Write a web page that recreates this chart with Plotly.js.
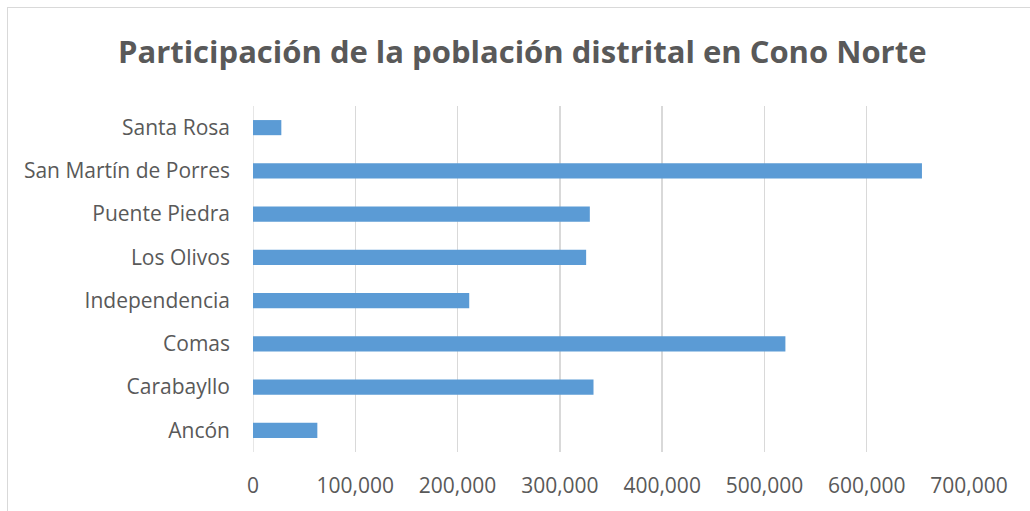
<!DOCTYPE html>
<html>
<head>
<meta charset="utf-8">
<script src="https://cdn.plot.ly/plotly-3.0.1.min.js"></script>
<style>
html,body{margin:0;padding:0;background:#fff;}
#wrap{position:relative;width:1030px;height:511px;overflow:hidden;}
#chart{position:absolute;left:0;top:0;width:1030px;height:511px;}
#frame{position:absolute;left:7px;top:7px;width:1100px;height:600px;border-left:1px solid #d9d9d9;border-top:1px solid #d9d9d9;pointer-events:none;}
</style>
</head>
<body>
<div id="wrap"><div id="chart"></div><div id="frame"></div></div>
<script>
const categories = ["Ancón","Carabayllo","Comas","Independencia","Los Olivos","Puente Piedra","San Martín de Porres","Santa Rosa"];
const population = [62900, 332900, 520500, 211400, 325700, 329300, 654000, 27700];
const xTickValues = [0,100000,200000,300000,400000,500000,600000,700000];
const xTickLabels = ["0","100,000","200,000","300,000","400,000","500,000","600,000","700,000"];
const titleText = "Participación de la población distrital en Cono Norte";

const font = "'Open Sans', sans-serif";
const trace = {
  type: "bar",
  orientation: "h",
  y: categories,
  x: population,
  marker: {color: "#5B9BD5"},
  hoverinfo: "x+y"
};
const layout = {
  width: 1030, height: 511,
  margin: {l: 253, r: 61, t: 106, b: 59},
  paper_bgcolor: "#fff", plot_bgcolor: "#fff",
  bargap: 0.65,
  showlegend: false,
  title: {text: "<b>" + titleText + "</b>", x: 0.507, xanchor: "center", y: 0.898, yanchor: "middle",
          font: {family: font, size: 31, color: "#595959"}},
  xaxis: {range: [0, 700000], tickvals: xTickValues, ticktext: xTickLabels,
          showgrid: true, gridcolor: "#d9d9d9", gridwidth: 1.3, zeroline: false,
          showline: false, ticks: "", ticklabelstandoff: 19,
          tickfont: {family: font, size: 21, color: "#595959"}, fixedrange: true},
  yaxis: {type: "category", showgrid: false, zeroline: false, showline: false,
          ticks: "", ticklabelstandoff: 22,
          tickfont: {family: font, size: 21, color: "#595959"}, fixedrange: true},
  shapes: [{type: "line", xref: "x", yref: "paper", x0: 0, x1: 0, y0: 0, y1: 1,
            line: {color: "#d9d9d9", width: 1.3}, layer: "below"}]
};
Plotly.newPlot("chart", [trace], layout, {displayModeBar: false, staticPlot: true});
</script>
</body>
</html>
